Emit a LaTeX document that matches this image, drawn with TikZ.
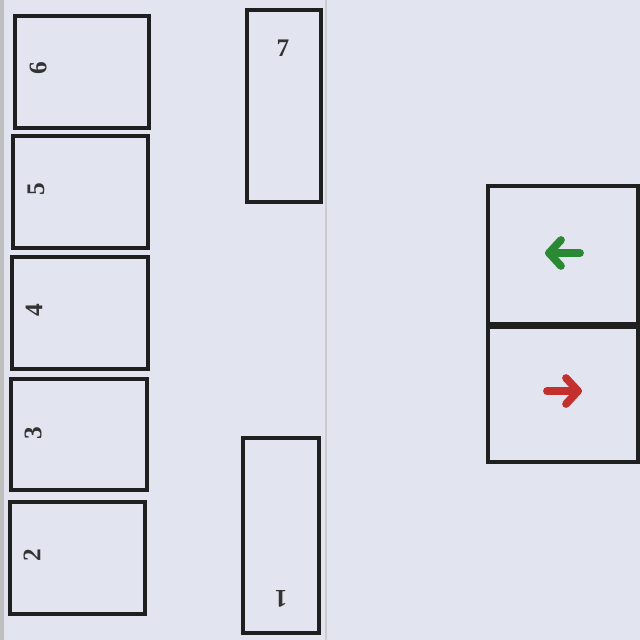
\documentclass[tikz,border=0pt]{standalone}
\usepackage{fontspec}
\setmainfont{Liberation Serif}
\begin{document}
\begin{tikzpicture}[x=0.025cm,y=-0.025cm,
  box/.style={draw=black!88,line width=2.8pt,inner sep=0pt,anchor=north west},
  lbl/.style={font=\fontsize{18}{20}\selectfont\bfseries,text=black!80},
  arr/.style={line width=5.5pt,line cap=round,line join=round}]
\definecolor{paper}{RGB}{226,228,240}
\definecolor{arrgreen}{RGB}{42,138,52}
\definecolor{arrred}{RGB}{196,48,46}
\fill[paper] (0,0) rectangle (640,640);
\useasboundingbox (0,0) rectangle (640,640);
\fill[black!25] (0,0) rectangle (4,640);
\draw[black!20,line width=0.8pt] (326,0) -- (326,640);
% left column
\node[box,minimum width=134*0.025cm,minimum height=112*0.025cm] (b6) at (13,14) {};
\node[box,minimum width=135*0.025cm,minimum height=112*0.025cm] (b5) at (11,134) {};
\node[box,minimum width=136*0.025cm,minimum height=112*0.025cm] (b4) at (10,255) {};
\node[box,minimum width=136*0.025cm,minimum height=111*0.025cm] (b3) at (9,377) {};
\node[box,minimum width=135*0.025cm,minimum height=112*0.025cm] (b2) at (8,500) {};
\node[lbl,rotate=90] (t6) at (38,68) {6};
\node[lbl,rotate=90] (t5) at (36,189) {5};
\node[lbl,rotate=90] (t4) at (34,310) {4};
\node[lbl,rotate=90] (t3) at (33,433) {3};
\node[lbl,rotate=90] (t2) at (32,555) {2};
% tall boxes
\node[box,minimum width=74*0.025cm,minimum height=192*0.025cm] (b7) at (245,8) {};
\node[box,minimum width=76*0.025cm,minimum height=195*0.025cm] (b1) at (241,436) {};
\node[lbl] (t7) at (283,48) {7};
\node[lbl,rotate=180] (t1) at (281,599) {1};
% right box
\node[box,minimum width=150*0.025cm,minimum height=138*0.025cm] (bu) at (486,184) {};
\node[box,minimum width=150*0.025cm,minimum height=138*0.025cm] (bd) at (486,322) {};
\draw[black!88,line width=5pt] (bu.south west) -- (bu.south east);
\draw[arr,arrgreen] (580,253) -- (549,253);
\draw[arr,arrgreen] (561,240) -- (549,253) -- (561,266);
\draw[arr,arrred] (547,391) -- (578,391);
\draw[arr,arrred] (566,378) -- (578,391) -- (566,404);
\end{tikzpicture}
\end{document}
